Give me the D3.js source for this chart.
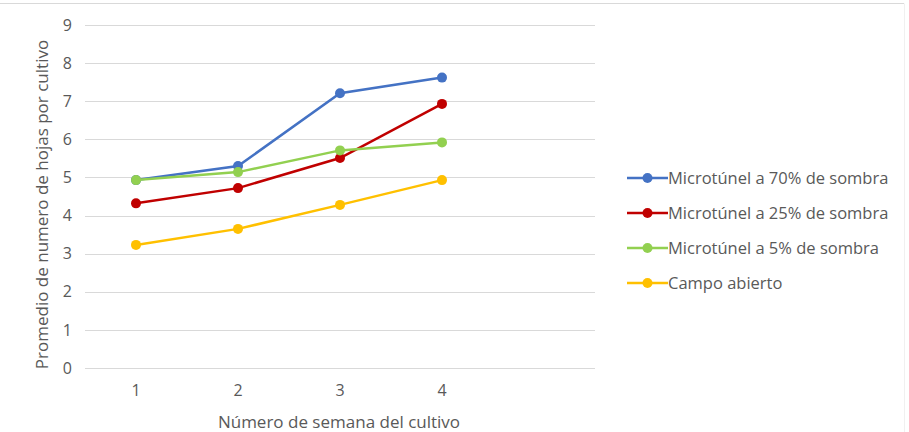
<!DOCTYPE html>
<html>
<head>
<meta charset="utf-8">
<script src="https://cdn.jsdelivr.net/npm/d3@7"></script>
<style>
  body { margin: 0; background: #fff; }
  text { font-family: 'Open Sans', sans-serif; fill: #595959; }
</style>
</head>
<body>
<div id="chart"></div>
<script>
// weeks (5th slot is empty, like the original spreadsheet chart)
const weeks = ["1", "2", "3", "4", ""];
const seriesNames = [
  "Microtúnel a 70% de sombra",
  "Microtúnel a 25% de sombra",
  "Microtúnel a 5% de sombra",
  "Campo abierto"
];
const seriesColors = ["#4472C4", "#C00000", "#92D050", "#FFC000"];
const sombra70 = [4.93, 5.30, 7.21, 7.62];
const sombra25 = [4.32, 4.72, 5.51, 6.93];
const sombra5 = [4.93, 5.14, 5.71, 5.92];
const campoAbierto = [3.23, 3.65, 4.28, 4.93];
const yTicks = [0, 1, 2, 3, 4, 5, 6, 7, 8, 9];

const width = 909, height = 432;
const plot = { left: 85, right: 595, top: 25, bottom: 368 };

const svg = d3.select('#chart').append('svg')
  .attr('width', width)
  .attr('height', height);

// faint frame on top / right edge
svg.append('line')
  .attr('x1', 0).attr('x2', 904).attr('y1', 3.5).attr('y2', 3.5)
  .attr('stroke', '#d9d9d9');
svg.append('line')
  .attr('x1', 904.5).attr('x2', 904.5).attr('y1', 3.5).attr('y2', 432)
  .attr('stroke', '#f0f0f0');

const x = d3.scaleBand().domain(weeks).range([plot.left, plot.right]);
const y = d3.scaleLinear().domain([0, 9]).range([plot.bottom, plot.top]);

// gridlines
svg.append('g')
  .selectAll('line')
  .data(yTicks)
  .join('line')
  .attr('x1', plot.left).attr('x2', plot.right)
  .attr('y1', d => Math.round(y(d)) + 0.5)
  .attr('y2', d => Math.round(y(d)) + 0.5)
  .attr('stroke', '#d9d9d9')
  .attr('stroke-width', 1);

// y axis labels
const yAxis = svg.append('g')
  .attr('transform', `translate(${plot.left - 13},0)`)
  .call(d3.axisLeft(y).tickValues(yTicks).tickSize(0).tickPadding(0));
yAxis.select('.domain').remove();
yAxis.selectAll('text')
  .style('font-size', '16px')
  .style('fill', '#595959')
  .style('font-family', "'Open Sans', sans-serif");

// x axis labels
const xAxis = svg.append('g')
  .attr('transform', `translate(0,${plot.bottom + 17})`)
  .call(d3.axisBottom(x).tickSize(0).tickPadding(0));
xAxis.select('.domain').remove();
xAxis.selectAll('text')
  .style('font-size', '16px')
  .style('fill', '#595959')
  .style('font-family', "'Open Sans', sans-serif");

// axis titles
svg.append('text')
  .attr('x', 339)
  .attr('y', 428)
  .attr('text-anchor', 'middle')
  .style('font-size', '17px')
  .text('Número de semana del cultivo');

svg.append('text')
  .attr('transform', `translate(48, ${(plot.top + plot.bottom) / 2 + 8}) rotate(-90)`)
  .attr('text-anchor', 'middle')
  .style('font-size', '17px')
  .text('Promedio de numero de hojas por cultivo');

// series
const allSeries = [sombra70, sombra25, sombra5, campoAbierto];
const line = d3.line()
  .x((d, i) => x(weeks[i]) + x.bandwidth() / 2)
  .y(d => y(d));

allSeries.forEach((vals, s) => {
  const g = svg.append('g');
  g.append('path')
    .datum(vals)
    .attr('d', line)
    .attr('fill', 'none')
    .attr('stroke', seriesColors[s])
    .attr('stroke-width', 2.5);
  g.selectAll('circle')
    .data(vals)
    .join('circle')
    .attr('cx', (d, i) => x(weeks[i]) + x.bandwidth() / 2)
    .attr('cy', d => y(d))
    .attr('r', 5)
    .attr('fill', seriesColors[s]);
});

// legend
const legend = svg.append('g')
  .attr('transform', 'translate(627, 178)');

const items = legend.selectAll('g')
  .data(seriesNames)
  .join('g')
  .attr('transform', (d, i) => `translate(0, ${i * 35})`);

items.append('line')
  .attr('x1', 0).attr('x2', 41)
  .attr('y1', 0).attr('y2', 0)
  .attr('stroke', (d, i) => seriesColors[i])
  .attr('stroke-width', 2.5);

items.append('circle')
  .attr('cx', 20.5).attr('cy', 0).attr('r', 5)
  .attr('fill', (d, i) => seriesColors[i]);

items.append('text')
  .attr('x', 41)
  .attr('y', 6)
  .style('font-size', '16.5px')
  .text(d => d);
</script>
</body>
</html>
